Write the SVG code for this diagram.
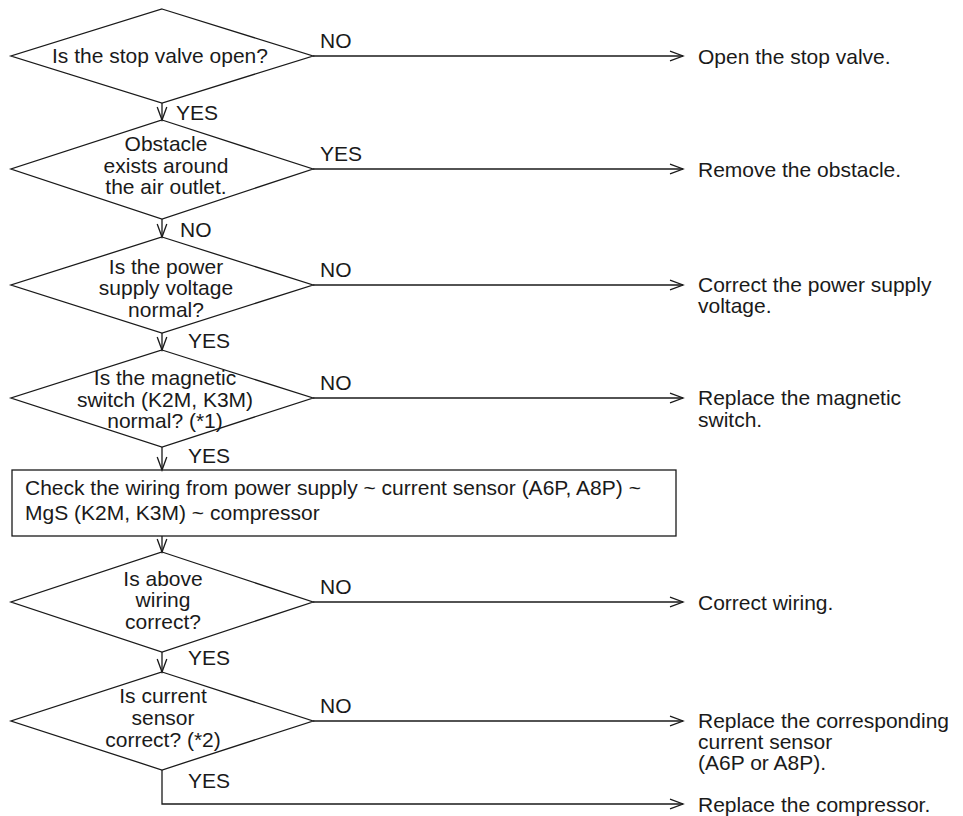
<svg xmlns="http://www.w3.org/2000/svg" width="963" height="816" viewBox="0 0 963 816">
<style>
.s{fill:none;stroke:#1a1a1a;stroke-width:1.3}
text{font-family:"Liberation Sans",Arial,sans-serif;font-size:21px;fill:#1a1a1a}
.c{text-anchor:middle}
</style>
<defs>
<marker id="ah" markerWidth="16" markerHeight="14" viewBox="-14 -7 15 14" refX="0" refY="0" orient="auto" markerUnits="userSpaceOnUse">
<path d="M-13,-4.8 L0,0 L-13,4.8" fill="none" stroke="#1a1a1a" stroke-width="1.3"/>
</marker>
</defs>
<rect width="963" height="816" fill="#fff"/>
<g id="connectors">
<path class="s" d="M162,103 V120" marker-end="url(#ah)"/>
<path class="s" d="M162,219 V237" marker-end="url(#ah)"/>
<path class="s" d="M162,333 V350" marker-end="url(#ah)"/>
<path class="s" d="M162,447 V470" marker-end="url(#ah)"/>
<path class="s" d="M162,536 V552" marker-end="url(#ah)"/>
<path class="s" d="M162,652 V672" marker-end="url(#ah)"/>
<path class="s" d="M313,56 H683" marker-end="url(#ah)"/>
<path class="s" d="M313,169 H683" marker-end="url(#ah)"/>
<path class="s" d="M313,285 H683" marker-end="url(#ah)"/>
<path class="s" d="M313,398 H683" marker-end="url(#ah)"/>
<path class="s" d="M313,602 H683" marker-end="url(#ah)"/>
<path class="s" d="M313,721 H683" marker-end="url(#ah)"/>
<path class="s" d="M162,770 V804 H683" marker-end="url(#ah)"/>
<text x="176" y="120">YES</text>
<text x="180" y="237">NO</text>
<text x="188" y="348">YES</text>
<text x="188" y="463">YES</text>
<text x="188" y="665">YES</text>
<text x="188" y="788">YES</text>
<text x="320" y="48">NO</text>
<text x="320" y="161">YES</text>
<text x="320" y="277">NO</text>
<text x="320" y="390">NO</text>
<text x="320" y="594">NO</text>
<text x="320" y="713">NO</text>
</g>
<g id="d1">
<polygon class="s" points="162,9 313,56 162,103 11,56"/>
<text class="c" x="160" y="63">Is the stop valve open?</text>
</g>
<g id="d2">
<polygon class="s" points="162,120 313,169 162,219 11,169"/>
<text class="c" x="166" y="151">Obstacle</text>
<text class="c" x="166" y="173">exists around</text>
<text class="c" x="166" y="194">the air outlet.</text>
</g>
<g id="d3">
<polygon class="s" points="162,237 313,285 162,333 11,285"/>
<text class="c" x="166" y="274">Is the power</text>
<text class="c" x="166" y="295">supply voltage</text>
<text class="c" x="166" y="317">normal?</text>
</g>
<g id="d4">
<polygon class="s" points="162,350 313,398 162,447 11,398"/>
<text class="c" x="165" y="385">Is the magnetic</text>
<text class="c" x="165" y="407">switch (K2M, K3M)</text>
<text class="c" x="165" y="428">normal? (*1)</text>
</g>
<g id="box">
<rect class="s" x="12" y="470" width="664" height="66"/>
<text x="25" y="495">Check the wiring from power supply ~ current sensor (A6P, A8P) ~</text>
<text x="25" y="520">MgS (K2M, K3M) ~ compressor</text>
</g>
<g id="d5">
<polygon class="s" points="162,552 313,602 162,652 11,602"/>
<text class="c" x="163" y="586">Is above</text>
<text class="c" x="163" y="607">wiring</text>
<text class="c" x="163" y="629">correct?</text>
</g>
<g id="d6">
<polygon class="s" points="162,672 313,721 162,770 11,721"/>
<text class="c" x="163" y="703">Is current</text>
<text class="c" x="163" y="725">sensor</text>
<text class="c" x="163" y="747">correct? (*2)</text>
</g>
<g id="a1"><text x="698" y="64">Open the stop valve.</text></g>
<g id="a2"><text x="698" y="177">Remove the obstacle.</text></g>
<g id="a3"><text x="698" y="292">Correct the power supply</text><text x="698" y="313">voltage.</text></g>
<g id="a4"><text x="698" y="405">Replace the magnetic</text><text x="698" y="427">switch.</text></g>
<g id="a5"><text x="698" y="610">Correct wiring.</text></g>
<g id="a6"><text x="698" y="728">Replace the corresponding</text><text x="698" y="749">current sensor</text><text x="698" y="770">(A6P or A8P).</text></g>
<g id="a7"><text x="698" y="812">Replace the compressor.</text></g>
</svg>
